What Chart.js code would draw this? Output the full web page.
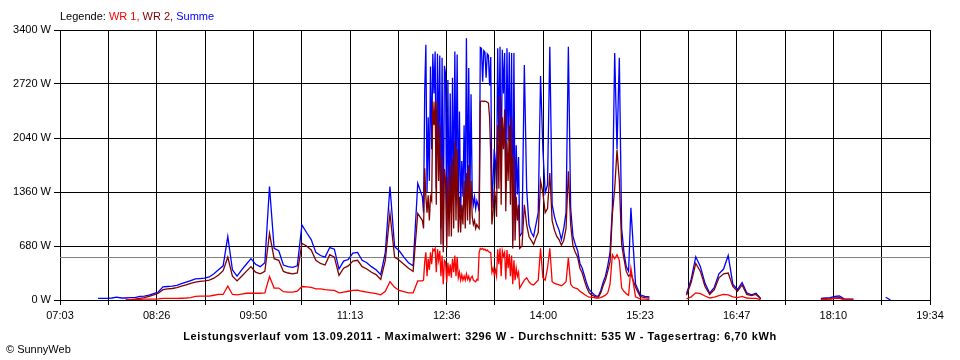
<!DOCTYPE html>
<html>
<head>
<meta charset="utf-8">
<script src="https://cdn.jsdelivr.net/npm/chart.js@4.4.0/dist/chart.umd.min.js"></script>
<style>
    body { margin: 0; background: #fff; font-family: "Liberation Sans", Arial, sans-serif; font-size: 11px; color: #000; }
    #wrap { position: relative; width: 960px; height: 360px; }
    #chart { position: absolute; left: 0; top: 0; }
    #legend { position: absolute; left: 60px; top: 10px; }
    #footer { position: absolute; left: 0; top: 330px; width: 960px; text-align: center; font-weight: bold; letter-spacing: 0.6px; }
    #copy { position: absolute; left: 6px; top: 343px; }
</style>
</head>
<body>
<div id="wrap">
    <canvas id="chart" width="960" height="360"></canvas>
    <div id="legend">Legende: <span style="color:#ff0000">WR 1,</span> <span style="color:#800000">WR 2,</span> <span style="color:#0000ff">Summe</span></div>
    <div id="footer">Leistungsverlauf vom 13.09.2011 - Maximalwert: 3296 W - Durchschnitt: 535 W - Tagesertrag: 6,70 kWh</div>
    <div id="copy">&copy; SunnyWeb</div>
</div>
<script>
const timeLabels = ['07:03', '08:26', '09:50', '11:13', '12:36', '14:00', '15:23', '16:47', '18:10', '19:34'];
const yTicks = [0, 680, 1360, 2040, 2720, 3400];
const xMin = 423.15; // 07:03 in minutes
const xMax = 1174.2; // 19:34
const average = 535;

// morning, 07:36 - 12:12, every 4 min
const sumMorning = [20, 20, 20, 25, 35, 25, 25, 30, 30, 45, 50, 60, 80, 100, 165, 170, 175, 185, 205, 225,
    245, 265, 270, 275, 290, 330, 380, 430, 800, 380, 300, 380, 450, 520, 450, 420, 470, 1430, 650, 620,
    440, 420, 410, 430, 945, 850, 760, 600, 560, 540, 660, 640, 390, 490, 510, 590, 600, 500, 470, 420,
    380, 320, 600, 1430, 670, 620, 540, 470, 430, 1470];
const wr2Morning = [null, null, null, null, null, null, 3, 5, 10, 20, 30, 45, 65, 85, 130, 140, 145, 155, 175, 190,
    210, 225, 235, 240, 250, 275, 315, 370, 540, 300, 240, 300, 360, 420, 350, 330, 360, 840, 520, 500,
    360, 340, 330, 340, 715, 680, 630, 500, 460, 440, 570, 540, 310, 400, 430, 490, 500, 420, 390, 350,
    320, 260, 500, 1090, 540, 500, 450, 400, 360, 1090];
const wr1Morning = [null, null, null, null, null, null, 3, 5, 5, 8, 10, 10, 12, 15, 20, 20, 20, 20, 22, 25,
    30, 45, 50, 50, 50, 60, 70, 70, 175, 70, 65, 75, 85, 85, 85, 85, 90, 295, 150, 150,
    105, 100, 100, 110, 170, 165, 160, 140, 140, 130, 125, 120, 90, 100, 110, 120, 125, 110, 100, 90,
    80, 65, 110, 230, 160, 120, 105, 90, 90, 240];

// clouds passing, 12:16 - 13:40, every minute
const sumDense = [1300, 1100, 2630, 3215, 1350, 2300, 1500, 2940, 1900, 3100,
    2600, 3130, 1400, 3100, 2000, 3080, 900, 3050, 700, 2950,
    2850, 800, 2770, 1100, 2600, 1100, 2800, 1300, 3130, 1500,
    3090, 1200, 2375, 1100, 1750, 1300, 2200, 1250, 3296, 1300,
    2920, 1200, 2590, 1330, 1200, 1300, 1150, 1250, 1200, 1117,
    3180, 3170, 2750, 3140, 3120, 2800, 3100, 3080, 2700, 3060,
    1160, 1500, 1900, 1750, 1400, 3170, 2000, 3190, 1500, 3150,
    2600, 3110, 1400, 3170, 2000, 3120, 1600, 3110, 740, 3110,
    1000, 1950, 1330, 1800, 800];
const wr2Dense = [1000, 900, 1660, 1300, 1100, 1320, 1000, 1300, 1250, 2500,
    2200, 2500, 1200, 2500, 1500, 2200, 700, 1800, 600, 1650,
    1500, 650, 1550, 800, 1700, 800, 1800, 900, 2000, 1000,
    1900, 850, 1300, 850, 1200, 950, 1500, 900, 1600, 1000,
    1700, 950, 1500, 1050, 950, 1000, 900, 950, 920, 900,
    2500, 2505, 2505, 2500, 2505, 2500, 2490, 2480, 2300, 1800,
    950, 1100, 1400, 1300, 1050, 2200, 1400, 2565, 1200, 2300,
    1900, 2400, 1117, 2000, 1500, 2200, 1200, 2300, 650, 1800,
    750, 1300, 1000, 1200, 650];
const wr1Dense = [240, 250, 480, 600, 300, 520, 380, 600, 450, 640,
    620, 650, 350, 640, 500, 620, 300, 560, 200, 500,
    480, 220, 470, 300, 450, 280, 520, 350, 560, 300,
    540, 280, 350, 250, 320, 250, 300, 250, 330, 260,
    300, 240, 280, 300, 250, 240, 230, 260, 250, 600,
    650, 640, 650, 630, 640, 620, 630, 610, 600, 600,
    350, 400, 320, 380, 300, 640, 450, 650, 300, 620,
    550, 600, 260, 630, 400, 580, 300, 560, 200, 500,
    250, 400, 300, 350, 150];

// midday, 13:42 - 15:16, every 2 min
const sumMidday = [850, 2960, 1400, 950, 850, 800, 950, 1100, 2820, 1900,
    1350, 1450, 3190, 1200, 1050, 950, 880, 760, 900, 1100,
    3190, 1150, 800, 700, 620, 460, 400, 300, 200, 130,
    100, 70, 50, 50, 120, 220, 300, 430, 600, 1160,
    3110, 1900, 3050, 900, 600, 420, 360, 1160];
const wr2Midday = [680, 1200, 950, 800, 750, 700, 780, 850, 1500, 1350,
    1100, 1150, 1600, 1000, 880, 800, 760, 690, 750, 900,
    1620, 950, 680, 600, 540, 400, 340, 240, 150, 90,
    65, 50, 35, 35, 90, 180, 250, 360, 480, 1080,
    1400, 1890, 1500, 700, 520, 360, 300, 330];
const wr1Midday = [200, 250, 280, 230, 200, 190, 220, 250, 650, 280,
    250, 400, 650, 230, 210, 200, 190, 180, 200, 230,
    530, 200, 160, 150, 140, 110, 90, 70, 50, 35,
    35, 30, 25, 25, 30, 45, 60, 90, 200, 570,
    520, 570, 500, 150, 110, 80, 60, 400];

// afternoon, 15:20 - 17:12, every 4 min
const sumAfternoon = [200, 65, 45, 40, null, null, null, null, null, null, null, 80, 260, 545, 420,
    210, 85, 160, 330, 390, 560, 200, 130, 220, 90, 65, 85, 20, null];
const wr2Afternoon = [160, 45, 30, 25, null, null, null, null, null, null, null, 60, 220, 460, 360,
    170, 70, 130, 280, 330, 340, 170, 110, 190, 70, 55, 70, 15, null];
const wr1Afternoon = [40, 15, 10, 8, null, null, null, null, null, null, null, 15, 40, 90, 80,
    50, 25, 35, 55, 70, 65, 40, 30, 45, 25, 20, 20, 5, null];

// evening, 17:56 - 19:00, every 4 min
const sumEvening = [null, 20, 25, 30, 45, 50, 15, 12, 10, null, null, null, null, null, null, 35, 0];
const wr2Evening = [null, 10, 15, 15, 25, 28, 10, 8, 6, null, null, null, null, null, null, null, null];
const wr1Evening = [null, 5, 8, 10, 20, 20, 5, 4, 3, null, null, null, null, null, null, null, null];

const sections = [
    { start: 456, step: 4, sum: sumMorning, wr1: wr1Morning, wr2: wr2Morning },
    { start: 736, step: 1, sum: sumDense, wr1: wr1Dense, wr2: wr2Dense },
    { start: 822, step: 2, sum: sumMidday, wr1: wr1Midday, wr2: wr2Midday },
    { start: 920, step: 4, sum: sumAfternoon, wr1: wr1Afternoon, wr2: wr2Afternoon },
    { start: 1076, step: 4, sum: sumEvening, wr1: wr1Evening, wr2: wr2Evening }
];

function buildPoints(key) {
    const points = [];
    sections.forEach(sec => {
        sec[key].forEach((v, i) => points.push({ x: sec.start + i * sec.step, y: v }));
    });
    return points;
}

function makeLine(label, data, color) {
    return {
        label: label,
        data: data,
        borderColor: color,
        borderWidth: 1.3,
        pointRadius: 0,
        tension: 0,
        spanGaps: false,
        fill: false
    };
}

Chart.defaults.font.family = '"Liberation Sans", Arial, sans-serif';
Chart.defaults.font.size = 11;
Chart.defaults.color = '#000';

new Chart(document.getElementById('chart'), {
    type: 'line',
    data: {
        datasets: [
            makeLine('WR 1', buildPoints('wr1'), '#ff0000'),
            makeLine('WR 2', buildPoints('wr2'), '#800000'),
            makeLine('Summe', buildPoints('sum'), '#0000ff'),
            {
                label: 'Durchschnitt',
                data: [{ x: xMin, y: average }, { x: xMax, y: average }],
                borderColor: '#808080',
                borderWidth: 1,
                pointRadius: 0
            }
        ]
    },
    options: {
        responsive: false,
        animation: false,
        events: [],
        layout: { padding: { top: 30, right: 30, left: 0, bottom: 0 } },
        plugins: {
            legend: { display: false },
            tooltip: { enabled: false }
        },
        scales: {
            x: {
                type: 'linear',
                min: xMin,
                max: xMax,
                afterBuildTicks: axis => {
                    const n = (timeLabels.length - 1) * 2;
                    axis.ticks = [];
                    for (let i = 0; i <= n; i++) {
                        axis.ticks.push({ value: xMin + i * (xMax - xMin) / n });
                    }
                },
                afterFit: axis => { axis.height = 60; },
                ticks: {
                    autoSkip: false,
                    maxRotation: 0,
                    padding: 4,
                    callback: (value, index) => index % 2 === 0 ? timeLabels[index / 2] : ''
                },
                grid: { color: '#000', lineWidth: 1, tickLength: 5 },
                border: { color: '#000', width: 1 }
            },
            y: {
                min: 0,
                max: 3400,
                afterBuildTicks: axis => { axis.ticks = yTicks.map(v => ({ value: v })); },
                afterFit: axis => { axis.width = 60; },
                ticks: {
                    padding: 3,
                    callback: value => value + ' W'
                },
                grid: { color: '#000', lineWidth: 1, tickLength: 6 },
                border: { color: '#000', width: 1 }
            }
        }
    }
});
</script>
</body>
</html>
